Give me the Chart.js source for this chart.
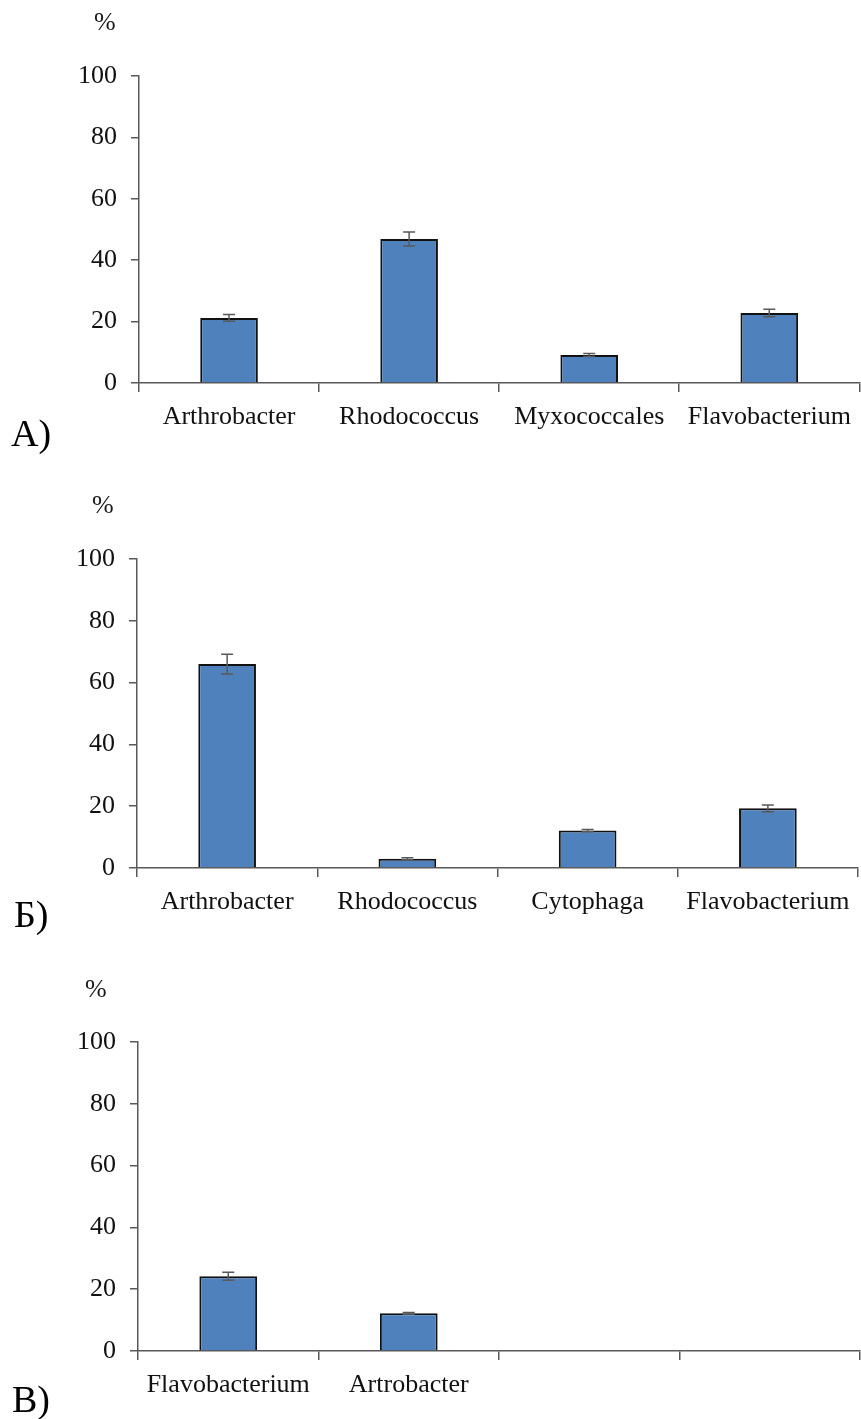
<!DOCTYPE html>
<html>
<head>
<meta charset="utf-8">
<script src="https://cdn.jsdelivr.net/npm/chart.js@4"></script>
<style>
  body { margin: 0; background: #fff; }
  #page { position: relative; width: 861px; height: 1419px; }
  .panel { position: absolute; left: 0; width: 861px; height: 484px; }
  .panel canvas { position: absolute; left: 0; top: 0; }
  .pct, .tag { position: absolute; font-family: 'Liberation Serif', 'Times New Roman', serif; color: #1a1a1a; white-space: nowrap; }
  .pct { font-size: 26px; line-height: 26px; }
  .tag { font-size: 38px; line-height: 38px; color: #000; }
</style>
</head>
<body>
<div id="page">
  <div class="panel" style="top:0px">
    <canvas id="chartA" width="861" height="484"></canvas>
    <div class="pct" style="left:94px; top:9px">%</div>
    <div class="tag" style="left:11px; top:414px">A)</div>
  </div>
  <div class="panel" style="top:484px">
    <canvas id="chartB" width="861" height="484"></canvas>
    <div class="pct" style="left:92px; top:8px">%</div>
    <div class="tag" style="left:14px; top:411px">Б)</div>
  </div>
  <div class="panel" style="top:968px">
    <canvas id="chartV" width="861" height="484"></canvas>
    <div class="pct" style="left:85px; top:8px">%</div>
    <div class="tag" style="left:12px; top:412px">В)</div>
  </div>
</div>

<script>
// data
const labelsA = ['Arthrobacter', 'Rhodococcus', 'Myxococcales', 'Flavobacterium'];
const valuesA = [21.2, 46.9, 9.1, 22.8];
const errorsA = [1.1, 2.3, 0.5, 1.2];

const labelsB = ['Arthrobacter', 'Rhodococcus', 'Cytophaga', 'Flavobacterium'];
const valuesB = [66.0, 3.0, 12.1, 19.3];
const errorsB = [3.2, 0.3, 0.4, 1.1];

const labelsV = ['Flavobacterium', 'Artrobacter', '', ''];
const valuesV = [24.2, 12.2, null, null];
const errorsV = [1.3, 0.3, null, null];

const yMin = 0;
const yMax = 100;
const yStep = 20;

const FONT = "'Liberation Serif', 'Times New Roman', serif";
const AXIS = '#595959';

// error bars drawn through the chart's own y scale
const errorBars = {
  id: 'errorBars',
  afterDatasetsDraw(chart, args, opts) {
    const ctx = chart.ctx;
    const y = chart.scales.y;
    const meta = chart.getDatasetMeta(0);
    const vals = chart.data.datasets[0].data;
    ctx.save();
    ctx.strokeStyle = AXIS;
    ctx.lineWidth = 1.5;
    meta.data.forEach((bar, i) => {
      const v = vals[i], e = opts.errors[i];
      if (v == null || e == null) return;
      const top = y.getPixelForValue(v + e);
      const bot = y.getPixelForValue(v - e);
      ctx.beginPath();
      ctx.moveTo(bar.x, top); ctx.lineTo(bar.x, bot);
      ctx.moveTo(bar.x - 6, top); ctx.lineTo(bar.x + 6, top);
      ctx.moveTo(bar.x - 6, bot); ctx.lineTo(bar.x + 6, bot);
      ctx.stroke();
    });
    ctx.restore();
  }
};

function makeChart(id, labels, values, errors, box) {
  const ctx = document.getElementById(id).getContext('2d');
  return new Chart(ctx, {
    type: 'bar',
    data: {
      labels: labels,
      datasets: [{
        data: values,
        backgroundColor: '#4F81BD',
        borderColor: '#111111',
        borderWidth: 2,
        barPercentage: 0.32,
        categoryPercentage: 1
      }]
    },
    options: {
      responsive: false,
      animation: false,
      devicePixelRatio: 1,
      layout: { padding: { top: box.top, right: 861 - box.right, left: 0, bottom: 0 } },
      plugins: {
        legend: { display: false },
        tooltip: { enabled: false },
        errorBars: { errors: errors }
      },
      scales: {
        x: {
          afterFit: s => { s.height = 484 - box.bottom; },
          grid: { offset: true, drawOnChartArea: false, drawTicks: true, tickLength: 9, color: AXIS, lineWidth: 1.5 },
          border: { display: true, color: AXIS, width: 1.5 },
          ticks: {
            autoSkip: false, maxRotation: 0, minRotation: 0, padding: 10,
            color: '#111111', font: { family: FONT, size: 26 }
          }
        },
        y: {
          min: yMin,
          max: yMax,
          afterFit: s => { s.width = box.left; },
          grid: { drawOnChartArea: false, drawTicks: true, tickLength: 8, color: AXIS, lineWidth: 1.5 },
          border: { display: true, color: AXIS, width: 1.5 },
          ticks: {
            stepSize: yStep, padding: 14,
            color: '#111111', font: { family: FONT, size: 26 }
          }
        }
      }
    },
    plugins: [errorBars]
  });
}

makeChart('chartA', labelsA, valuesA, errorsA, { left: 139, right: 860, top: 76, bottom: 383 });
makeChart('chartB', labelsB, valuesB, errorsB, { left: 137, right: 858, top: 75, bottom: 384 });
makeChart('chartV', labelsV, valuesV, errorsV, { left: 138, right: 860, top: 74, bottom: 383 });
</script>
</body>
</html>
